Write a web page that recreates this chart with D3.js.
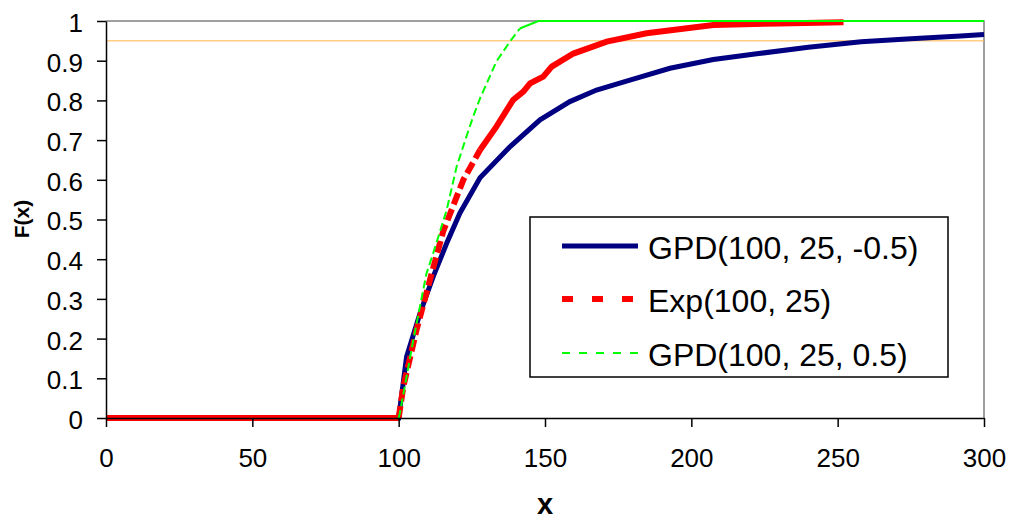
<!DOCTYPE html>
<html>
<head>
<meta charset="utf-8">
<script src="https://cdn.jsdelivr.net/npm/d3@7.9.0/dist/d3.min.js"></script>
<style>
  body { margin: 0; background: #fff; }
  svg { display: block; font-family: Arial, 'Liberation Sans', sans-serif; }
  .tick text { font-size: 26px; fill: #000; }
</style>
</head>
<body>
<svg id="chart" width="1009" height="519"></svg>
<script>
// values
const blueX = [0, 100, 102.7, 107.3, 111.8, 116.4, 120.9, 127.8, 138, 148.3, 158.5, 167.6, 179, 192.7, 207.5, 223, 240, 258, 275, 292, 300];
const blueF = [0, 0, 0.154, 0.264, 0.356, 0.44, 0.516, 0.605, 0.683, 0.751, 0.797, 0.826, 0.851, 0.881, 0.903, 0.918, 0.934, 0.948, 0.955, 0.962, 0.966];

const redX = [0, 100, 101.6, 106.1, 110.7, 115.2, 122.1, 127.8, 133.4, 139.1, 142.6, 144.9, 149.4, 152.3, 159.7, 171.1, 184.7, 207.5, 230, 252];
const redF = [0, 0, 0.079, 0.222, 0.348, 0.47, 0.6, 0.675, 0.734, 0.801, 0.822, 0.843, 0.86, 0.885, 0.918, 0.948, 0.969, 0.99, 0.994, 0.997];

const greenX = [100, 100.4, 105, 109.5, 111.8, 116.4, 119.8, 123.2, 125.5, 127.8, 133.4, 138, 141.4, 147.7, 300];
const greenF = [0, 0.012, 0.196, 0.364, 0.415, 0.524, 0.633, 0.71, 0.76, 0.805, 0.898, 0.948, 0.981, 1, 1];

const level = 0.95;
const xTicks = [0, 50, 100, 150, 200, 250, 300];
const yTicks = [0, 0.1, 0.2, 0.3, 0.4, 0.5, 0.6, 0.7, 0.8, 0.9, 1];
const seriesNames = ['GPD(100, 25, -0.5)', 'Exp(100, 25)', 'GPD(100, 25, 0.5)'];

const svg = d3.select('#chart');
const plotLeft = 106, plotRight = 984, plotTop = 21, plotBottom = 418;

const x = d3.scaleLinear().domain([0, 300]).range([plotLeft, plotRight]);
const y = d3.scaleLinear().domain([0, 1]).range([plotBottom, plotTop]);

// plot frame: gray top/right
svg.append('path')
  .attr('d', `M${plotLeft},${plotTop}H${plotRight}V${plotBottom}`)
  .attr('fill', 'none')
  .attr('stroke', '#808080')
  .attr('stroke-width', 1.5);

// 95% reference line
svg.append('line')
  .attr('x1', x(0)).attr('x2', x(300))
  .attr('y1', y(level)).attr('y2', y(level))
  .attr('stroke', '#ffb347')
  .attr('stroke-width', 1);

const line = d3.line().x(d => x(d[0])).y(d => y(d[1]));
const zip = (xs, fs) => xs.map((v, i) => [v, fs[i]]);

// dashes only show where the sample points are far apart (the steep part)
const styles = [
  { color: '#000080', width: 5, dash: null, legendDash: null, dashFrom: 0, dashTo: 0 },
  { color: '#ff0000', width: 6, dash: '12,5', legendDash: '11,19', dashFrom: 100, dashTo: 127.8 },
  { color: '#00ff00', width: 2, dash: '8,4', legendDash: '8,9', dashFrom: 100, dashTo: 141.4 }
];
const data = [zip(blueX, blueF), zip(redX, redF), zip(greenX, greenF)];

data.forEach((pts, i) => {
  const s = styles[i];
  const parts = [
    { pts: pts.filter(d => d[0] <= s.dashFrom), dash: null },
    { pts: pts.filter(d => d[0] >= s.dashFrom && d[0] <= s.dashTo), dash: s.dash },
    { pts: pts.filter(d => d[0] >= s.dashTo), dash: null }
  ];
  parts.filter(p => p.pts.length > 1).forEach(p => {
    svg.append('path')
      .attr('d', line(p.pts))
      .attr('fill', 'none')
      .attr('stroke', s.color)
      .attr('stroke-width', s.width)
      .attr('stroke-dasharray', p.dash);
  });
});

// axes
const xAxis = svg.append('g')
  .attr('transform', `translate(0,${plotBottom})`)
  .call(d3.axisBottom(x).tickValues(xTicks).tickSize(9).tickPadding(22).tickSizeOuter(0));
const yAxis = svg.append('g')
  .attr('transform', `translate(${plotLeft},0)`)
  .call(d3.axisLeft(y).tickValues(yTicks).tickSize(9).tickPadding(14).tickSizeOuter(0).tickFormat(d3.format('~g')));
[xAxis, yAxis].forEach(g => {
  g.select('.domain').attr('stroke', '#000').attr('stroke-width', 1.5);
  g.selectAll('.tick line').attr('stroke', '#000').attr('stroke-width', 1.5);
  g.selectAll('.tick text').attr('font-family', null).attr('font-size', null);
});
yAxis.selectAll('.tick text').attr('dy', '0.4em');

// axis titles
svg.append('text')
  .attr('x', 545).attr('y', 514)
  .attr('text-anchor', 'middle')
  .attr('font-weight', 'bold')
  .attr('font-size', 29)
  .text('x');
svg.append('text')
  .attr('transform', 'translate(29,219) rotate(-90)')
  .attr('text-anchor', 'middle')
  .attr('font-weight', 'bold')
  .attr('font-size', 21)
  .text('F(x)');

// legend
const legend = svg.append('g');
legend.append('rect')
  .attr('x', 530).attr('y', 217)
  .attr('width', 418).attr('height', 160)
  .attr('fill', '#fff')
  .attr('stroke', '#000')
  .attr('stroke-width', 1.5);
const rowY = [246, 299, 353];
seriesNames.forEach((name, i) => {
  legend.append('line')
    .attr('x1', 562).attr('x2', 638)
    .attr('y1', rowY[i]).attr('y2', rowY[i])
    .attr('stroke', styles[i].color)
    .attr('stroke-width', styles[i].width)
    .attr('stroke-dasharray', styles[i].legendDash);
  legend.append('text')
    .attr('x', 648).attr('y', rowY[i] + 12.5)
    .attr('font-size', 32)
    .text(name);
});
</script>
</body>
</html>
